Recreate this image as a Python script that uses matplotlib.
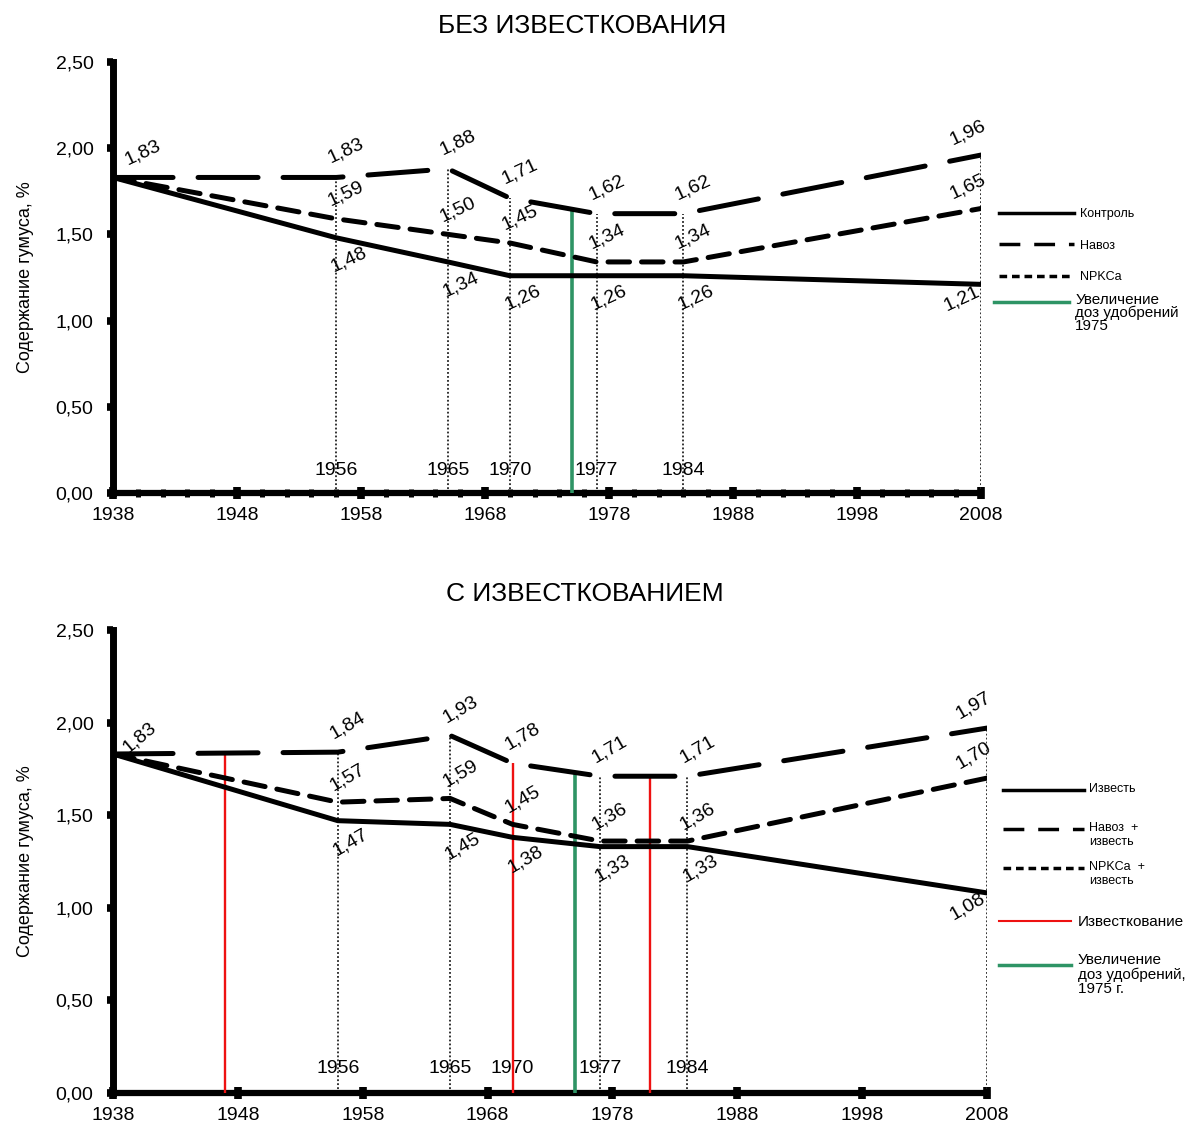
import numpy as np
import matplotlib
matplotlib.use("Agg")
import matplotlib.pyplot as plt
from matplotlib.lines import Line2D
from matplotlib.legend_handler import HandlerLine2D
from matplotlib.ticker import FuncFormatter, MultipleLocator

plt.rcParams['font.family'] = ['Liberation Sans', 'DejaVu Sans']

# --- Data ---
years = [1938, 1956, 1965, 1970, 1977, 1984, 2008]

# без известкования
control = [1.83, 1.48, 1.34, 1.26, 1.26, 1.26, 1.21]
manure = [1.83, 1.83, 1.88, 1.71, 1.62, 1.62, 1.96]
npkca = [1.83, 1.59, 1.50, 1.45, 1.34, 1.34, 1.65]

# с известкованием
lime = [1.83, 1.47, 1.45, 1.38, 1.33, 1.33, 1.08]
manure_lime = [1.83, 1.84, 1.93, 1.78, 1.71, 1.71, 1.97]
npkca_lime = [1.83, 1.57, 1.59, 1.45, 1.36, 1.36, 1.70]

liming_years = [1947, 1970, 1981]
dose_year = 1975

GREEN = '#2e9465'
RED = '#ee1111'


class UpHandler(HandlerLine2D):
    """legend line lifted to the first line of a multi-line label"""
    def __init__(self, shift, **kw):
        super().__init__(**kw)
        self.shift = shift

    def create_artists(self, legend, orig_handle, xdescent, ydescent, width, height,
                       fontsize, trans):
        arts = super().create_artists(legend, orig_handle, xdescent, ydescent, width,
                                      height, fontsize, trans)
        for a in arts:
            a.set_ydata(np.asarray(a.get_ydata()) + self.shift)
        return arts


def fmt(v):
    return f"{v:.2f}".replace('.', ',')


def draw_panel(ax, series, styles, title, rot, first_off, with_liming, minor):
    lw = 3.6
    for vals, st in zip(series, styles):
        if st == 'solid':
            ax.plot(years, vals, color='black', lw=lw, solid_capstyle='round',
                    solid_joinstyle='round', zorder=4)
        else:
            ax.plot(years, vals, color='black', lw=lw, dashes=st,
                    dash_capstyle='round', zorder=4)

    top_vals = np.max(np.array(series), axis=0)
    ax.vlines(years[1:], 0, top_vals[1:], colors='#222222', linestyles=(0, (1, 1.2)),
              lw=1.3, zorder=2)

    # year captions inside the plot
    for y in years[1:-1]:
        ax.text(y, 0.13, str(y), ha='center', va='center', fontsize=14, zorder=3)

    man = series[1]
    # event lines go up to the manure line
    ax.vlines(dose_year, 0, np.interp(dose_year, years, man), colors=GREEN, lw=2.6, zorder=3)
    if with_liming:
        for ly in liming_years:
            ax.vlines(ly, 0, np.interp(ly, years, man), colors=RED, lw=1.7, zorder=3)

    # value labels
    offs = [(7, 19), (7, 18), (9, -16)]  # manure, npk, control-like (points)
    order = [1, 2, 0]
    for k, idx in enumerate(order):
        vals = series[idx]
        for i, (x, v) in enumerate(zip(years, vals)):
            r = rot
            if i == 0:
                if k > 0:
                    continue
                dx, dy, r = first_off
            elif i == len(years) - 1:
                dx, dy = (-10, 16) if k < 2 else (-14, -10)
            else:
                dx, dy = offs[k]
            ax.annotate(fmt(v), (x, v), xytext=(dx, dy), textcoords='offset points',
                        ha='center', va='center', rotation=r, fontsize=14, zorder=5)

    ax.set_xlim(1938, 2008)
    ax.set_ylim(0, 2.5)
    ax.set_xticks(range(1938, 2009, 10))
    ax.set_yticks(np.arange(0, 2.51, 0.5))
    ax.yaxis.set_major_formatter(FuncFormatter(lambda v, p: fmt(v)))
    if minor:
        ax.xaxis.set_minor_locator(MultipleLocator(2))
        ax.tick_params(axis='x', which='minor', length=6, width=3.6, direction='inout')
    ax.tick_params(axis='x', which='major', length=8, width=5.5, labelsize=14,
                   direction='inout', pad=6)
    ax.tick_params(axis='y', which='major', length=4, width=5.5, labelsize=14,
                   direction='out', pad=10)
    for s in ['top', 'right']:
        ax.spines[s].set_visible(False)
    ax.spines['left'].set_linewidth(5)
    ax.spines['bottom'].set_linewidth(4.5)
    ax.set_ylabel("Содержание гумуса, %", fontsize=13, labelpad=16)
    ax.set_title(title, fontsize=19, pad=21, x=0.54)


fig = plt.figure(figsize=(11.95, 11.24), dpi=100)
ax1 = fig.add_axes([0.0946, 0.5614, 0.7264, 0.3835])
ax2 = fig.add_axes([0.0946, 0.0276, 0.7314, 0.412])

style_solid = 'solid'
style_long = (12, 5)
style_short = (4.3, 2.4)

draw_panel(ax1, [control, manure, npkca], [style_solid, style_long, style_short],
           "БЕЗ ИЗВЕСТКОВАНИЯ", 25, (21, 18, 25), False, True)
draw_panel(ax2, [lime, manure_lime, npkca_lime], [style_solid, style_long, style_short],
           "С ИЗВЕСТКОВАНИЕМ", 30, (19, 12, 40), True, False)

# --- legends, top panel ---
h1 = [Line2D([], [], color='black', lw=2.5),
      Line2D([], [], color='black', lw=2.5, dashes=(6, 4)),
      Line2D([], [], color='black', lw=2.5, dashes=(2.2, 1.4))]
leg1 = ax1.legend(h1, ["Контроль", "Навоз", "NPKCa"], loc='upper left',
                  bbox_to_anchor=(1.015, 0.672), frameon=False, fontsize=9,
                  handlelength=6.0, labelspacing=1.55, handletextpad=0.5, borderaxespad=0)
ax1.add_artist(leg1)
g1 = Line2D([], [], color=GREEN, lw=2.5)
ax1.legend([g1], ["Увеличение\nдоз удобрений\n1975"], loc='upper left',
           bbox_to_anchor=(1.008, 0.478), frameon=False, fontsize=11,
           handlelength=4.9, handletextpad=0.4, borderaxespad=0,
           handler_map={g1: UpHandler(8)}).get_texts()[0].set_linespacing(0.9)

# --- legends, bottom panel ---
l2 = Line2D([], [], color='black', lw=2.5)
n2 = Line2D([], [], color='black', lw=2.5, dashes=(6, 4))
p2 = Line2D([], [], color='black', lw=2.5, dashes=(2.2, 1.4))
leg2 = ax2.legend([l2, n2, p2], ["Известь\n ", "Навоз  +\nизвесть", "NPKCa  +\nизвесть"],
                  loc='upper left', bbox_to_anchor=(1.012, 0.68), frameon=False,
                  fontsize=9, handlelength=6.5, labelspacing=1.05, handletextpad=0.4,
                  borderaxespad=0,
                  handler_map={l2: UpHandler(4.5), n2: UpHandler(4.5), p2: UpHandler(4.5)})
ax2.add_artist(leg2)
r2 = Line2D([], [], color=RED, lw=1.5)
g2 = Line2D([], [], color=GREEN, lw=2.5)
leg3 = ax2.legend([r2, g2], ["Известкование", "Увеличение\nдоз удобрений,\n1975 г."],
                  loc='upper left', bbox_to_anchor=(1.007, 0.397), frameon=False,
                  fontsize=11, handlelength=4.7, labelspacing=1.55, handletextpad=0.45,
                  borderaxespad=0, handler_map={g2: UpHandler(6.5)})
for t in leg3.get_texts():
    t.set_linespacing(1.02)

fig.savefig("out.png", dpi=100)
